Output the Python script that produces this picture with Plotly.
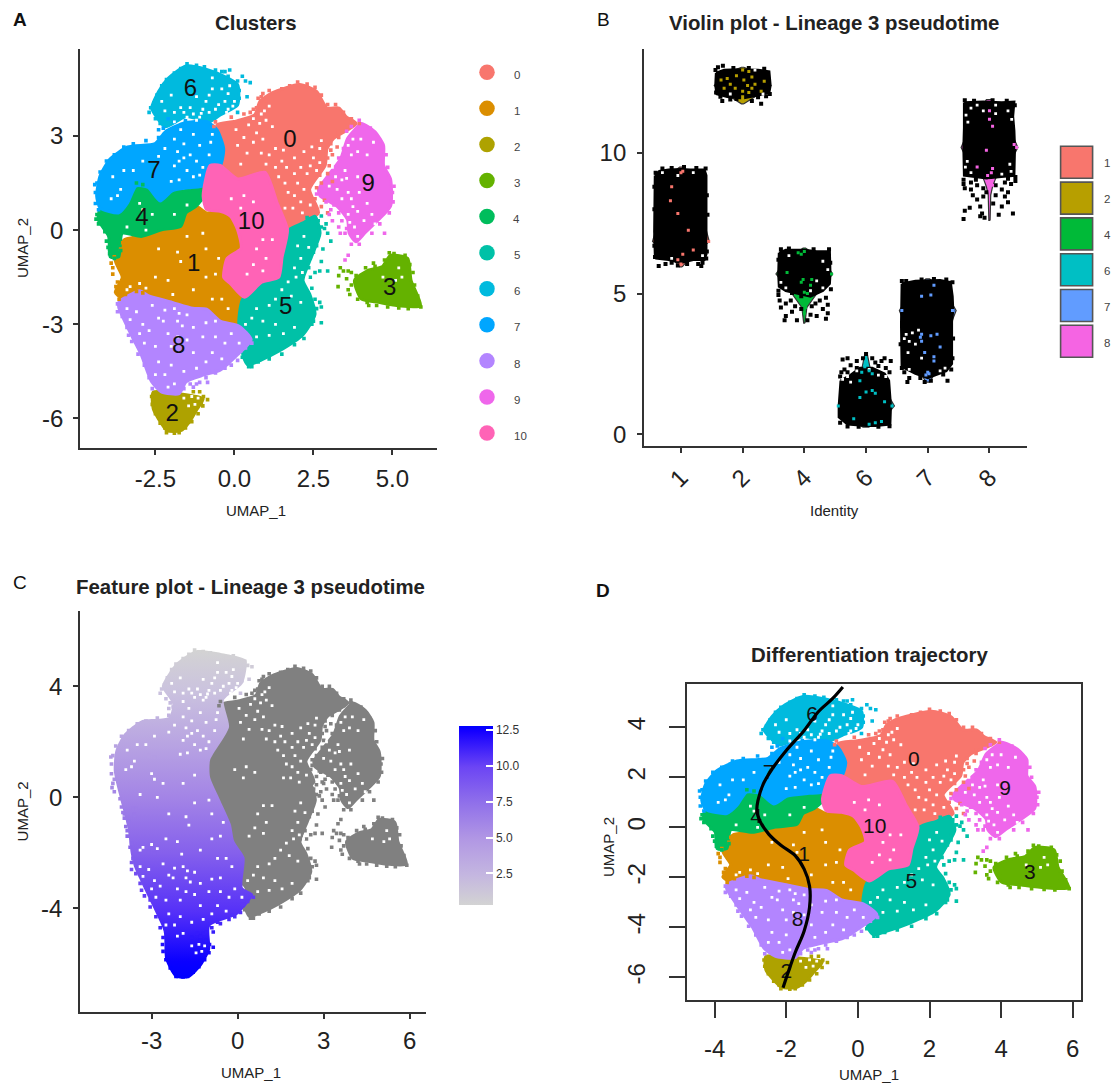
import plotly.graph_objects as go

W, H = 1115, 1084
FONT = "Liberation Sans"

# ---------- data (UMAP units) ----------
CLUSTER_IDS = ["0", "1", "2", "3", "4", "5", "6", "7", "8", "9", "10"]
CLUSTER_COLORS = ["#F8766D", "#DB8E00", "#AEA200", "#64B200", "#00BD5C", "#00C1A7",
                  "#00BADE", "#00A6FF", "#B385FF", "#EF67EB", "#FF63B6"]

c0 = [(.805,4.10),(1.19,4.37),(2.06,4.64),(2.60,4.42),(2.93,3.89),(3.31,3.89),(3.53,3.62),(3.85,3.40),(3.58,3.19),(3.14,2.92),(2.93,2.59),(2.87,2.06),(2.38,1.30),(2.66,.55),(1.95,.12),(1.68,.12),(1.40,.44),(1.35,.87),(.97,1.84),(.10,1.63),(-.45,2.16),(-.34,2.59),(-.55,3.35),(-.01,3.46),(.64,3.67)]
c1 = [(-1.21,.76),(-.88,.55),(-.45,.60),(-.12,.44),(.15,.01),(.21,-.58),(-.23,-.90),(-.34,-1.55),(-.12,-1.71),(.32,-2.14),(.21,-2.90),(-.01,-3.00),(-.45,-2.90),(-.88,-2.52),(-1.32,-2.46),(-1.97,-2.30),(-2.73,-2.03),(-3.06,-1.87),(-3.60,-2.14),(-3.77,-1.98),(-3.55,-1.50),(-3.77,-.96),(-3.49,-.31),(-3.06,-.20),(-2.30,.12),(-1.70,.12),(-1.53,.55)]
c2 = [(-2.57,-5.16),(-1.75,-5.21),(-.99,-5.37),(-1.21,-5.75),(-1.43,-6.12),(-1.70,-6.39),(-2.13,-6.39),(-2.40,-6.02),(-2.57,-5.69)]
c3 = [(4.94,-.80),(5.48,-.90),(5.59,-1.60),(5.89,-2.41),(5.21,-2.41),(4.56,-2.30),(4.02,-2.20),(3.80,-1.60),(4.23,-1.28),(4.67,-1.17)]
c4 = [(-3.11,1.41),(-2.73,1.36),(-2.40,.98),(-1.97,1.19),(-1.42,1.30),(-1.15,1.46),(-.94,1.14),(-1.21,.76),(-1.53,.55),(-1.70,.12),(-2.30,.01),(-2.95,-.20),(-3.55,-.10),(-3.66,-.85),(-3.93,-.85),(-3.98,-.20),(-4.31,.33),(-4.25,.66),(-3.66,.55),(-3.38,.87)]
c5 = [(2.17,.23),(2.55,.44),(2.71,-.10),(2.44,-.85),(2.17,-1.60),(2.38,-2.03),(2.55,-2.68),(2.17,-3.33),(1.40,-3.86),(.86,-4.13),(.42,-4.29),(.26,-3.92),(.53,-3.49),(.15,-3.06),(.26,-2.20),(.86,-1.71),(1.46,-1.28),(1.57,-.74),(1.73,.01)]
c6 = [(-1.53,5.23),(-.88,5.12),(-.34,4.91),(.10,4.64),(.10,3.99),(-.45,3.67),(-.77,3.46),(-1.53,3.62),(-2.19,3.29),(-2.51,3.67),(-2.62,3.89),(-2.40,4.42),(-2.08,4.85)]
c7 = [(-4.25,1.73),(-3.93,2.27),(-3.38,2.65),(-2.51,2.76),(-2.19,3.13),(-1.64,3.40),(-.88,3.46),(-.55,3.19),(-.34,2.59),(-.45,2.06),(-.77,2.06),(-.99,1.41),(-1.37,1.36),(-1.97,1.25),(-2.35,.93),(-2.73,1.36),(-3.11,1.41),(-3.38,.87),(-3.66,.55),(-4.25,.71),(-4.36,1.09)]
c8 = [(-3.00,-1.93),(-2.73,-2.09),(-1.97,-2.30),(-1.32,-2.49),(-.88,-2.52),(-.45,-2.90),(.15,-3.06),(.53,-3.49),(.10,-3.97),(-.45,-4.46),(-.99,-4.62),(-1.53,-4.83),(-1.75,-5.21),(-2.30,-5.16),(-2.62,-4.83),(-2.95,-3.97),(-3.22,-3.43),(-3.66,-2.47),(-3.66,-2.30)]
c9 = [(4.02,3.40),(4.45,3.13),(4.72,2.70),(4.72,2.06),(4.94,1.63),(4.94,.76),(4.56,.33),(4.12,-.10),(3.85,-.37),(3.63,-.10),(3.58,.33),(3.25,.76),(2.71,1.09),(2.66,1.30),(3.04,1.84),(3.36,2.27),(3.58,2.92),(3.80,3.19)]
c10 = [(-.77,2.06),(-.45,2.06),(.10,1.63),(.97,1.84),(1.35,.87),(1.68,.01),(1.51,-.85),(1.40,-1.50),(.86,-1.66),(.32,-2.14),(-.12,-1.71),(-.34,-1.50),(-.23,-.90),(.21,-.58),(.10,.01),(-.12,.44),(-.45,.60),(-.88,.66),(-.99,1.09)]
OUTLINES = [c0, c1, c2, c3, c4, c5, c6, c7, c8, c9, c10]

# stray cells outside the dense part of each cluster
stray = {
    0: [(.9,4.35),(.75,4.2),(2.75,.75),(2.95,.55),(2.55,1.0),(2.75,1.5),(3.05,2.75),(3.3,3.1),(1.0,4.0),(.7,3.9),
        (.6,3.85),(.85,4.25),(1.1,4.45),(1.5,4.5),(1.75,4.6),(2.0,4.72),(2.3,4.65),(2.55,4.55),(2.75,4.3),(2.95,4.0),(3.2,4.0),(3.45,3.75),(3.7,3.55),(3.95,3.4),(3.3,2.95),(3.05,2.55),(2.95,2.3),(3.0,2.05),(2.7,1.75),(2.6,1.35),(2.85,.95),(-.65,3.3),(-.6,3.45),(-.1,3.6),(.3,3.7),(.5,3.75),(3.1,2.4),(3.25,2.65),(2.95,1.8),(3.1,1.55)],
    1: [(-3.85,-1.2),(-3.9,-1.05),(-3.65,-2.2),(-3.45,-2.05),(-3.1,-1.95),(-2.9,-2.0),(-3.85,-1.4),(-3.7,-1.65),(-3.8,-.85),(-3.6,-.6),(-3.55,-.4),(-3.75,-1.8)],
    2: [(-.98,-5.3),(-1.1,-5.15),(-1.3,-5.15),(-1.05,-5.5),(-2.15,-6.45),(-1.75,-6.45),(-2.62,-5.3),(-2.6,-5.55),(-2.5,-5.85),(-2.35,-6.15),(-2.2,-6.3),(-1.9,-6.47),(-1.55,-6.3),(-1.35,-6.1),(-1.15,-5.85),(-1.0,-5.6),(-.85,-5.4)],
    3: [(3.35,-1.2),(3.45,-1.3),(3.3,-1.45),(3.6,-1.3),(3.7,-1.35),(3.28,-1.8),(3.7,-1.75),(3.55,-1.55),(3.9,-2.2),(3.65,-2.05),(4.25,-2.4),(4.4,-1.05),(4.9,-.72),(5.3,-.85),(5.65,-2.0),(3.6,-1.9),
        (5.0,-.95),(5.65,-1.35),(5.7,-1.75),(5.8,-2.1),(5.9,-2.45),(5.5,-2.5),(5.2,-2.48),(4.85,-2.45),(4.5,-2.4),(4.2,-2.3),(3.95,-1.95),(3.85,-1.45),(4.15,-1.2),(4.45,-1.15),(4.75,-.95),(5.05,-.75),(5.4,-.8),(5.55,-1.1)],
    4: [(-3.95,-.6),(-4.05,-.35),(-4.38,.35),(-3.8,-.9),(-4.35,.5),(-4.3,.2),(-4.1,-.05),(-4.0,-.55),(-3.95,-.75),(-3.6,-.65),(-3.65,-.4),(-3.1,1.5),(-2.9,1.45)],
    5: [(2.75,.45),(2.9,.2),(3.05,-.35),(2.95,-.1),(2.8,-.6),(2.75,-1),(2.95,-1.3),(2.55,-1.35),(2.4,-1.5),(2.7,-1.3),(2.7,-2.3),(2.75,-2.45),(2.75,-2.95),(2.5,-2.9),(.45,-4.35),(.25,-4.05),(2.6,-.3),(2.85,.05),
        (2.3,.4),(2.65,.3),(2.75,.1),(2.6,-.5),(2.5,-.7),(2.35,-1.2),(2.45,-1.85),(2.55,-2.2),(2.6,-2.5),(2.45,-3.0),(2.2,-3.45),(1.9,-3.65),(1.5,-3.95),(1.1,-4.1),(.75,-4.2),(.55,-4.35)],
    6: [(.25,4.9),(.35,4.75),(.5,4.7),(.4,4.25),(.1,3.75),(-.05,4.3),(-.15,5.1),(-.3,5.05),(-2.65,3.9),(-2.7,3.75),(-2.55,4.05),(-2.45,4.3),(-2.3,4.6),(-2.15,4.8),(-1.9,5.0),(-1.7,5.15),(-1.5,5.3),(-1.2,5.25),(-.95,5.2),(-.6,5.1),(-.4,5.05),(-.2,4.9),(.1,4.75),(.15,4.45),(.15,4.2),(-2.5,3.55),(-2.35,3.4)],
    7: [(-4.42,1.45),(-4.4,.85),(-2.4,3.2),(-2.1,3.55),(-4.4,1.2),(-4.35,1.5),(-4.25,1.85),(-4.05,2.2),(-3.8,2.4),(-3.5,2.65),(-3.2,2.75),(-2.8,2.85),(-2.4,2.95),(-2.25,3.25),(-1.9,3.45),(-1.55,3.48),(-4.3,.65)],
    8: [(-.1,-4.3),(-.6,-4.55),(-1.1,-4.85),(-1.2,-4.9),(-.3,-4.4),(.1,-4.15),(-3.7,-2.6),(-3.35,-3.35),(-3.05,-3.7),(-3.7,-2.35),(-3.55,-2.75),(-3.4,-3.1),(-3.25,-3.55),(-3.05,-3.95),(-2.85,-4.3),(-2.7,-4.7),(-2.6,-5.05),(-.9,-4.7),(-.7,-4.5),(-.2,-4.25),(.2,-3.85),(.35,-3.75),(.55,-3.6),(-1.4,-4.9),(-1.6,-5.05),(-1.3,-5.0),(-.85,-4.85)],
    9: [(4.75,-.1),(3.6,-.8),(3.5,-.95),(3.0,.5),(3.1,.3),(3.3,.1),(3.5,-.1),(3.35,-.1),(5.05,1.4),(3.15,.8),
        (3.45,2.6),(3.3,2.3),(3.2,1.95),(2.95,1.6),(2.85,1.3),(2.6,1.15),(2.9,.9),(3.05,.65),(3.3,.55),(3.4,.3),(3.55,.05),(3.7,-.45),(3.95,-.45),(5.0,1.2),(5.02,.9),(4.9,.55),(4.6,.2),(4.35,-.1),(4.85,2.0),(4.8,2.4),(4.6,2.85),(4.3,3.25),(3.95,3.5),(3.7,3.3),(3.55,3.15)],
    10: [],
}
LINEAGE_CLUSTERS = [1, 2, 4, 6, 7, 8]

# small gaps between the cells
gaps = [(-1.1,3.6),(-1.3,3.7),(-1.0,3.85),(-.8,3.75),(-1.5,3.6),(-1.9,3.45),(-1.6,3.75),(-.6,3.85),(-.9,4.1),(-.5,4.0),(-.3,4.1),(-1.2,4.25),(-1.7,3.9),(-1.2,3.5),(-1.05,3.72),(-.2,3.85),(-.05,3.95),
        (-2.2,3.8),(-2.0,4.3),(-2.3,4.1),(-.7,4.5),(-.4,4.5),(-.15,4.6),(-.7,4.85),(-1.9,3.75),(-1.4,3.9),(-.8,4.3),(-.2,4.35),(0,4.1),(-.25,3.75),
        (-1.8,2.5),(-1.75,2.2),(-1.6,2.3),(-1.4,2.4),(-1.2,2.2),(-1.0,2.0),(-1.5,1.9),(-1.1,2.7),(-1.6,2.75),(-.8,2.4),(-3.6,1.3),(-3.7,1.1),(-3.2,1.9),
        (-1.9,2.9),(-2.2,2.6),(-2.4,2.35),(-1.9,2.05),(-1.3,1.7),(-1.1,1.75),(-2.0,1.55),(-1.75,1.6),(-.75,2.8),(-.7,3.05),(-1.3,3.05),(-1.7,3.2),(-3.9,1.0),(-3.5,1.9),(-3.85,1.7),(-2.9,2.2),
        (.6,2.8),(.7,3.1),(.9,2.9),(.45,3.35),(.8,3.4),(.95,3.8),(1.2,3.3),(1.1,2.4),(1.3,2.0),(1.4,1.7),(1.6,1.5),(1.7,1.2),(1.65,2.0),(1.9,2.3),(2.1,2.0),(2.3,1.8),(2.2,2.5),(2.5,2.3),(2.6,1.9),(1.5,2.2),(1.9,1.1),(2.1,.9),(2.4,2.05),(2.7,2.6),(2.75,2.85),
        (.2,2.1),(.4,2.45),(.85,2.45),(1.0,2.1),(1.3,2.6),(1.55,2.55),(1.9,1.8),(2.0,1.5),(2.2,1.3),(1.85,.7),(2.15,.55),(1.6,.7),(2.4,.8),(2.45,2.65),(2.7,2.15),(.3,2.95),(.05,3.2),(.1,2.7),(.85,3.7),(1.1,3.95),(1.0,3.5),(.6,3.55),
        (3.1,2.0),(3.4,1.6),(3.6,1.2),(3.9,1.7),(3.7,1.0),(3.9,.6),(4.1,.3),(3.8,.1),(3.9,-.2),(3.7,2.4),(3.4,1.0),(3.25,1.3),(3.5,1.9),(3.75,.75),
        (4.0,2.9),(3.9,2.5),(4.2,2.4),(4.4,2.8),(3.75,2.9),(3.6,2.7),(3.95,1.2),(4.2,.85),(4.35,.5),(3.55,1.65),(3.2,1.7),(3.0,1.4),(4.45,.2),(3.6,.5),(3.65,.25),
        (.3,1.1),(.6,.9),(.9,-.3),(.7,-.6),(1.0,-.9),(.6,-1.1),(.4,-1.4),(.9,-1.3),(1.2,-.3),(-.1,1.0),(.2,.7),
        (-1.5,-.2),(-1,-.1),(-.9,-.6),(-.5,-.9),(-.6,-1.4),(-.9,-1.5),(-1.7,-1.0),(-2.1,-1.6),(-2.5,-1.5),(-3,-1.7),(-3.3,-1.8),(-.4,-2.2),(-.2,-2.5),(-.7,-2.2),(-1.3,-1.9),(-1.8,-.7),(-2.4,-.6),(-3.4,-1.9),(-2.8,-1.85),(-1.95,-2.05),
        (-1.9,-2.5),(-1.8,-2.9),(-1.5,-2.7),(-1.3,-3.1),(-2.1,-3.3),(-2.4,-2.8),(-2.9,-3),(-2.5,-3.7),(-1.0,-3.4),(-.6,-3.4),(-.3,-3.6),(-1.3,-3.9),(-.7,-3.9),(-2,-4.3),(-1.6,-4.5),(-1.9,-4.9),(-2.1,-5),(-3.1,-2.6),(-2.7,-3.2),(-1.75,-2.65),(-1.65,-3.05),
        (-3.4,-2.5),(-3.3,-2.85),(-3.0,-3.3),(-2.85,-3.6),(-2.6,-2.4),(-2.2,-2.55),(-2.25,-2.9),(-2.0,-3.7),(-1.8,-3.4),(-1.5,-3.5),(-.9,-2.95),(-.6,-2.9),(-2.4,-4.2),(-2.5,-4.6),(-2.2,-4.6),(-1.2,-4.4),(-.9,-4.2),(-.4,-4.1),(.15,-3.6),(-.1,-3.3),
        (.7,-2.5),(.9,-2.9),(1.1,-2.4),(1.3,-3.0),(.7,-3.4),(1.8,-2.1),(1.5,-1.9),(2.1,-2.3),(1.3,-2.2),(1.9,-1.2),
        (2.2,-.2),(2.35,-.55),(2.1,-.9),(1.95,-1.5),(1.7,-1.65),(1.1,-3.35),(1.55,-3.3),(1.9,-3.1),(.55,-2.8),(.35,-3.0),(2.3,-1.5),(2.15,-1.35),(2.0,-.5),
        (-3,.85),(-2.9,.65),(-2.6,.5),(-1.9,.5),(-1.5,.8),(-3.4,.1),(-2.8,.0),(5.2,-1.2),(5.3,-1.5),(5.1,-1.6),(4.7,-1.5),
        (-1.35,-5.3),(-1.25,-5.55),(-1.45,-5.6),(-1.15,-5.35),(-1.6,-5.35)]

label_xy_A = [(1.76,2.83),(-1.29,-1.10),(-1.97,-5.88),(4.91,-1.89),(-2.93,.36),(1.62,-2.49),(-1.39,4.46),(-2.55,1.84),(-1.76,-3.72),(4.23,1.43),(.53,.23)]
label_xy_D = [(1.56,2.67),(-1.5,-1.13),(-2,-5.81),(4.8,-1.87),(-2.84,.4),(1.49,-2.2),(-1.28,4.47),(-2.49,2.14),(-1.68,-3.74),(4.11,1.5),(.47,0)]

# principal curve in panel D
curve_x = [-.42,-.71,-1.11,-1.50,-2.0,-2.39,-2.64,-2.79,-2.82,-2.74,-2.49,-2.14,-1.75,-1.50,-1.35,-1.35,-1.50,-1.75,-1.95,-2.09]
curve_y = [5.61,5.14,4.61,3.87,3.07,2.34,1.74,1.07,.67,.27,-.27,-.73,-1.13,-1.67,-2.34,-3.2,-4.14,-5.0,-5.81,-6.41]

# Panel C: outline of the cells that carry a pseudotime value
lineage = [(-.48,3.49),(-.30,2.53),(-.96,1.33),(-.96,.72),(-.6,-.12),(-.24,-.96),(-.12,-1.57),(.24,-2.17),(.18,-3.25),(.54,-3.49),(0,-4.22),(-.96,-4.64),(-.96,-5.48),(-1.26,-6.08),(-1.68,-6.5),(-2.16,-6.5),(-2.52,-5.84),(-2.58,-4.82),(-3.06,-3.73),(-3.6,-2.53),(-3.72,-2.05),(-3.84,-1.08),(-4.14,.12),(-4.32,.96),(-4.26,1.69),(-3.96,2.29),(-3.36,2.77),(-2.4,2.89),(-2.28,3.37),(-2.64,3.98),(-2.16,4.82),(-1.44,5.30),(-.48,5.18),(.3,4.94),(.18,4.1)]
grey_core = [(-1.1,1.5),(-.5,2.6),(.6,2.6),(1.6,1.0),(2.6,.6),(2.2,-1.5),(1.5,-3.2),(.4,-3.6),(.05,-2.5),(-.4,-1.5),(-.8,-.2),(-1.1,.7)]
GREY_CLUSTERS = [0, 3, 5, 9, 10]
gradient_stops = [(0,"#D3D3D3"),(.12,"#CBC3DE"),(.28,"#B9A5E2"),(.45,"#A384E6"),(.62,"#8560EC"),(.8,"#5530F8"),(.95,"#0A00FF"),(1,"#0000FF")]
bar_stops = [(0,"#D3D3D3"),(.17,"#C4B6E0"),(.37,"#B197E4"),(.57,"#9070EA"),(.77,"#6C45F4"),(.97,"#1500FF"),(1,"#0000FF")]
BAR_TICKS = [2.5, 5.0, 7.5, 10.0, 12.5]

# Panel B: identities, violin half-widths, jittered cells
IDENTS = ["1", "2", "4", "6", "7", "8"]
IDENT_COLORS = ["#F8766D", "#B79F00", "#00BA38", "#00BFC4", "#619CFF", "#F564E3"]
violins = [
    [(5.95,.02),(6.4,.2),(6.85,.46),(7.5,.38),(8.5,.3),(9.2,.2),(9.5,.02)],
    [(11.75,.02),(12.0,.2),(12.4,.46),(12.8,.3),(13.05,.02)],
    [(3.95,.01),(4.5,.04),(5.0,.2),(5.7,.46),(6.2,.3),(6.62,.02)],
    [(.25,.05),(.6,.3),(1.0,.46),(1.6,.3),(2.2,.08),(2.85,.02)],
    [(1.85,.03),(2.5,.2),(3.5,.3),(4.4,.46),(5.0,.3),(5.52,.03)],
    [(7.6,.01),(8.5,.02),(8.8,.05),(9.1,.1),(9.5,.3),(10.2,.46),(11,.3),(11.9,.05)],
]
blobs = [
    [(-.42,9.2),(-.35,9.35),(-.2,9.4),(0,9.42),(.15,9.4),(.38,9.4),(.41,9.2),(.41,7.0),(.41,6.4),(.38,6.2),(.2,6.2),(0,6.1),(-.2,6.2),(-.4,6.25),(-.42,6.4),(-.43,7.2)],
    [(-.43,12.85),(-.3,12.95),(-.05,12.97),(.25,12.95),(.43,12.9),(.45,12.4),(.43,12.15),(.25,12.05),(0,11.95),(-.25,12.0),(-.42,12.1),(-.44,12.4)],
    [(-.41,6.45),(-.3,6.55),(0,6.55),(.2,6.5),(.41,6.5),(.42,5.7),(.41,5.35),(.3,5.1),(.1,4.9),(-.1,5.0),(-.3,5.1),(-.41,5.25),(-.42,5.7)],
    [(-.41,1.9),(-.25,2.1),(-.1,2.35),(.1,2.35),(.3,2.15),(.37,1.9),(.4,1.0),(.39,.35),(.15,.3),(0,.3),(-.3,.35),(-.44,.6),(-.44,1.0)],
    [(-.42,5.35),(-.2,5.45),(.2,5.47),(.37,5.4),(.4,4.9),(.41,4.4),(.39,4.0),(.39,2.5),(.3,2.25),(.1,2.1),(0,2.0),(-.2,2.15),(-.42,2.4),(-.43,3.9),(-.43,4.4)],
    [(-.41,11.8),(-.1,11.82),(.2,11.8),(.4,11.82),(.38,11.3),(.4,10.8),(.41,10.2),(.4,9.6),(.4,9.2),(.15,9.15),(-.05,9.1),(-.41,9.2),(-.42,10.2),(-.41,10.9)],
]
loose_cells = [
    [(-.36,5.98),(.33,5.98),(.35,6.1),(-.25,6.05),(.1,6.05),(-.15,6.1),(-.41,9.3),(-.3,9.45),(-.15,9.47),(.05,9.5),(.25,9.47),(.4,9.45),(-.42,6.3),(.41,6.25),(.42,6.5),(-.43,6.7),(-.43,8),(.42,8.5),(.43,7.8),(-.43,8.8),(.28,6.05),(-.05,6.0)],
    [(-.36,12.0),(-.33,11.85),(-.2,11.9),(.3,11.75),(.15,11.85),(-.4,13.05),(-.32,13.1),(-.44,12.95),(-.15,13.02),(.1,13.02),(.35,13.0),(-.43,12.15),(.44,12.1),(.38,12.02),(.25,11.98),(-.1,11.92)],
    [(-.42,4.95),(-.4,4.75),(-.3,4.65),(-.22,4.75),(-.15,4.55),(-.05,4.45),(-.3,4.2),(-.32,4.05),(-.12,4.05),(-.2,4.35),(.12,4.55),(.18,4.65),(.2,4.2),(.3,4.45),(.38,4.6),(.38,4.3),(.35,4.1),(.1,4.25),(.05,4.05),(.25,4.75),(.35,4.85),(-.38,4.5),(-.38,6.58),(-.25,6.6),(.15,6.58),(.4,6.58),(-.42,6.2),(.42,6.1),(-.42,5.1),(.43,5.15),(-.2,5.02),(-.05,4.9)],
    [(-.38,2.65),(-.3,2.7),(-.25,2.45),(.3,2.7),(.4,2.6),(.25,2.6),(-.35,2.3),(-.4,2.2),(0,2.85),(-.05,2.7),(.1,2.7),(.15,2.55),(-.15,2.6),(-.42,2.05),(.38,2.2),(.32,2.35),(.2,2.42),(-.15,2.35),(-.3,2.2),(-.42,.4),(-.3,.27),(.2,.26),(.38,.28),(-.12,.26)],
    [(-.33,1.85),(-.3,2.0),(.32,1.9),(-.05,1.85),(.05,1.9),(-.38,2.2),(.38,2.3),(-.42,2.35),(-.35,5.45),(-.42,5.45),(-.1,5.5),(.1,5.52),(.3,5.5),(.4,5.4),(.41,3.4),(-.44,3.2),(.4,2.7),(.25,2.12),(-.12,2.0)],
    [(-.42,8.9),(-.4,8.75),(-.3,8.95),(-.3,8.7),(-.2,8.85),(-.1,8.75),(.1,8.85),(.2,8.7),(.25,8.95),(.35,8.9),(.42,9.0),(-.32,8.05),(-.2,8.35),(-.1,8.45),(-.15,8.1),(.1,8.5),(.25,8.45),(.3,8.25),(-.4,7.95),(-.42,7.65),(.38,7.85),(-.12,7.85),(-.08,7.7),(-.15,7.75),(.15,7.8),(.06,8.2),(-.27,8.5),(.3,8.6),(-.05,8.6),(.2,8.1),(-.4,11.88),(-.25,11.86),(.05,11.88),(.28,11.86),(.41,11.7),(-.42,9.05),(-.22,9.05),(.3,9.08),(.42,9.15)],
]
blob_holes = [
    [(-.05,9.2),(.2,9.3),(-.3,9.3),(.35,6.35),(-.15,6.25)],
    [(.2,12.95),(-.2,12.1),(.33,12.1)],
    [(-.25,6.35),(.3,6.15),(.38,5.85),(.3,5.2),(-.3,5.2),(.2,5.45),(-.38,5.4),(.1,5.1)],
    [(-.3,2.05),(-.38,1.95),(.2,2.1),(.32,2.05),(-.25,1.85),(.05,2.3),(-.15,2.25)],
    [(-.35,3.55),(-.25,3.6),(-.3,3.3),(-.2,3.2),(-.32,2.9),(-.15,3.7),(-.38,3.4),(-.1,2.7),(.28,2.35),(-.3,2.3),(.2,2.25)],
    [(-.38,11.35),(-.3,11.6),(-.2,11.7),(.1,11.7),(.3,11.5),(.36,11.2),(-.35,11.1),(-.39,9.5),(-.3,9.3),(.35,9.35),(.2,9.25),(.1,11.4),(-.1,11.5),(.33,9.6),(-.36,9.7)],
]
ident_cells = [
    [(0,9.3),(.03,9.35),(-.15,8.8),(-.17,8.3),(-.05,7.85),(.12,7.25),(.2,6.55),(.03,6.4),(-.05,6.2),(0,6.05),(.45,6.85)],
    [(0,12.95),(.1,12.9),(.15,12.7),(-.1,12.75),(-.25,12.65),(-.2,12.45),(.02,12.6),(.08,12.4),(.2,12.45),(.35,12.55),(-.35,12.6),(-.12,12.3),(0,12.2),(.1,12.15),(0,12.0),(0,11.9),(.3,12.2),(-.3,12.3),(.15,12.3)],
    [(-.1,6.45),(-.05,6.4),(0,6.5),(.44,5.7),(-.05,5.4),(-.02,5.5),(.12,5.5),(.1,5.3),(0,5.05),(.05,5.0),(0,4.7),(.02,4.5),(0,4.3),(-.28,5.75)],
    [(0,2.6),(-.02,2.4),(.05,2.25),(.1,2.15),(-.07,2.2),(-.1,1.9),(0,1.5),(.1,1.55),(.15,1.45),(-.1,1.3),(.3,1.15),(.42,1.0),(-.2,.55),(.15,.4),(.05,.35),(-.45,1.0),(.25,.45)],
    [(.4,4.4),(-.42,4.4),(.05,4.95),(.1,5.3),(-.1,4.9),(-.1,3.55),(-.12,3.45),(-.1,3.3),(.05,3.5),(.15,3.55),(.2,3.1),(-.05,2.9),(.1,2.75),(.1,2.6),(0,2.2),(-.03,2.1),(.02,2.15)],
    [(0,11.5),(0,11.2),(.05,10.95),(-.05,10.1),(.4,10.3),(.44,10.2),(-.2,9.5),(.05,9.45),(0,9.0),(.02,8.9),(0,8.75),(-.03,9.2),(.03,9.3),(.05,8.85)],
]

# ---------- geometry helpers ----------
def dom_x(a, b): return [a / W, b / W]
def dom_y(top, bottom): return [1 - bottom / H, 1 - top / H]
def xs(pts): return [p[0] for p in pts]
def ys(pts): return [p[1] for p in pts]
def closed(pts): return pts + pts[:1]

fig = go.Figure()

def add_poly(pts, color, ax, line=3, shape="spline"):
    p = closed(pts)
    fig.add_trace(go.Scatter(x=xs(p), y=ys(p), mode="lines", fill="toself", fillcolor=color,
                             line=dict(color=color, width=line, shape=shape, smoothing=.6),
                             xaxis="x" + ax, yaxis="y" + ax, hoverinfo="skip", showlegend=False))

def add_dots(pts, color, ax, size=3.6, symbol="square"):
    if pts:
        fig.add_trace(go.Scatter(x=xs(pts), y=ys(pts), mode="markers",
                                 marker=dict(color=color, size=size, symbol=symbol, line=dict(width=0)),
                                 xaxis="x" + ax, yaxis="y" + ax, hoverinfo="skip", showlegend=False))

def add_umap(ax):
    for i, pts in enumerate(OUTLINES):
        add_poly(pts, CLUSTER_COLORS[i], ax)
    for i in range(len(OUTLINES)):
        add_dots(stray[i], CLUSTER_COLORS[i], ax)
    add_dots(gaps, "white", ax, 2.8)

# Panel A
add_umap("")
fig.add_trace(go.Scatter(x=xs(label_xy_A), y=ys(label_xy_A), text=CLUSTER_IDS, mode="text",
                         textfont=dict(family=FONT, size=24, color="#111"), hoverinfo="skip", showlegend=False))

# Panel B
for k, name in enumerate(IDENTS):
    v = violins[k]
    outline = [(k + w, y) for y, w in v] + [(k - w, y) for y, w in reversed(v)]
    p = closed(outline)
    fig.add_trace(go.Scatter(x=xs(p), y=ys(p), mode="lines", fill="toself", fillcolor=IDENT_COLORS[k],
                             line=dict(color="#333333", width=1.2), xaxis="x2", yaxis="y2",
                             hoverinfo="skip", showlegend=False))
    add_poly([(k + a, b) for a, b in blobs[k]], "black", "2", 2.5, "linear")
    add_dots([(k + a, b) for a, b in loose_cells[k]], "black", "2", 4)
    add_dots([(k + a, b) for a, b in blob_holes[k]], "white", "2", 2.8)
    add_dots([(k + a, b) for a, b in ident_cells[k]], IDENT_COLORS[k], "2", 3)

# Panel C
add_poly(grey_core, "#808080", "3", 3, "linear")
for i in GREY_CLUSTERS:
    add_poly(OUTLINES[i], "#808080", "3")
p = closed(lineage)
fig.add_trace(go.Scatter(x=xs(p), y=ys(p), mode="lines", fill="toself",
                         fillgradient=dict(type="vertical", start=5.3, stop=-6.5,
                                           colorscale=[list(s) for s in gradient_stops]),
                         line=dict(width=0, color="rgba(0,0,0,0)", shape="spline", smoothing=.6),
                         xaxis="x3", yaxis="y3", hoverinfo="skip", showlegend=False))
for i in GREY_CLUSTERS:
    add_dots(stray[i], "#808080", "3")
line_cells = [q for i in LINEAGE_CLUSTERS for q in stray[i]]
fig.add_trace(go.Scatter(x=xs(line_cells), y=ys(line_cells), mode="markers", xaxis="x3", yaxis="y3",
                         hoverinfo="skip", showlegend=False,
                         marker=dict(size=3.6, symbol="square", line=dict(width=0), color=ys(line_cells),
                                     cmin=-6.5, cmax=5.3, colorscale=[list(s) for s in gradient_stops], reversescale=True)))
add_dots(gaps, "white", "3", 2.8)
fig.add_trace(go.Scatter(
    x=[None, None], y=[None, None], mode="markers", xaxis="x3", yaxis="y3", showlegend=False, hoverinfo="skip",
    marker=dict(color=[.3, 12.79], cmin=.3, cmax=12.79, colorscale=[list(s) for s in bar_stops], showscale=True,
                colorbar=dict(lenmode="pixels", len=178.6, thicknessmode="pixels", thickness=34,
                              x=458.7 / W, xanchor="left", y=1 - 905 / H, yanchor="bottom", outlinewidth=0,
                              tickvals=BAR_TICKS, ticktext=["2.5", "5.0", "7.5", "10.0", "12.5"],
                              tickprefix="\u00a0\u00a0",
                              ticks="inside", ticklen=7, tickcolor="white", tickwidth=1.5,
                              tickfont=dict(family=FONT, size=12, color="#333"), ypad=0, xpad=0))))

# Panel D
add_umap("4")
fig.add_trace(go.Scatter(x=xs(label_xy_D), y=ys(label_xy_D), text=CLUSTER_IDS, mode="text", xaxis="x4", yaxis="y4",
                         textfont=dict(family=FONT, size=21, color="#111"), hoverinfo="skip", showlegend=False))
fig.add_trace(go.Scatter(x=curve_x, y=curve_y, mode="lines", xaxis="x4", yaxis="y4",
                         line=dict(color="black", width=3.2, shape="spline"), hoverinfo="skip", showlegend=False))

# Legends, drawn on a page-wide pixel axis
fig.add_trace(go.Scatter(x=[487] * len(CLUSTER_IDS), y=[72.3 + 36.07 * i for i in range(len(CLUSTER_IDS))],
                         mode="markers", xaxis="x5", yaxis="y5", hoverinfo="skip", showlegend=False,
                         marker=dict(size=15.5, color=CLUSTER_COLORS, line=dict(width=0))))
fig.add_trace(go.Scatter(x=[1076.6] * len(IDENTS), y=[162.3 + 35.8 * i for i in range(len(IDENTS))],
                         mode="markers", xaxis="x5", yaxis="y5", hoverinfo="skip", showlegend=False,
                         marker=dict(size=32, symbol="square", color=IDENT_COLORS, line=dict(width=1.6, color="#555"))))
# left-hand white ticks of the colour bar
fig.add_trace(go.Scatter(x=[462.2] * len(BAR_TICKS), y=[905 - (v - .3) * 14.3 for v in BAR_TICKS],
                         mode="markers", xaxis="x5", yaxis="y5", hoverinfo="skip", showlegend=False,
                         marker=dict(symbol="line-ew", size=7, line=dict(width=1.5, color="white"))))

# ---------- layout ----------
axis_style = dict(showgrid=False, zeroline=False, showline=True, linecolor="#333", linewidth=1.6,
                  ticks="outside", ticklen=5, tickwidth=1.6, tickcolor="#333",
                  tickfont=dict(family=FONT, size=24, color="#222"))

layout = dict(
    width=W, height=H, autosize=False, margin=dict(l=0, r=0, t=0, b=0),
    paper_bgcolor="white", plot_bgcolor="rgba(0,0,0,0)", showlegend=False,
    xaxis=dict(domain=dom_x(79.9, 437.3), range=[-4.89, 6.42], tickvals=[-2.5, 0, 2.5, 5],
               ticktext=["-2.5", "0.0", "2.5", "5.0"], ticklabelstandoff=3, **axis_style),
    yaxis=dict(domain=dom_y(49, 448.3), range=[-6.95, 5.77], tickvals=[-6, -3, 0, 3],
               ticktext=["-6", "-3", "0", "3"], ticklabelstandoff=5, **axis_style),
    xaxis2=dict(domain=dom_x(643.9, 1026.5), range=[-.6, 5.6], tickvals=list(range(6)), ticktext=IDENTS,
                tickangle=-45, ticklabelstandoff=1, anchor="y2", **axis_style),
    yaxis2=dict(domain=dom_y(49, 446.2), range=[-.43, 13.7], tickvals=[0, 5, 10], ticktext=["0", "5", "10"],
                ticklabelstandoff=6, anchor="x2", **axis_style),
    xaxis3=dict(domain=dom_x(79.9, 426.3), range=[-5.5, 6.58], tickvals=[-3, 0, 3, 6], ticktext=["-3", "0", "3", "6"],
                ticklabelstandoff=1, anchor="y3", **axis_style),
    yaxis3=dict(domain=dom_y(611, 1012.2), range=[-7.74, 6.71], tickvals=[-4, 0, 4], ticktext=["-4", "0", "4"],
                ticklabelstandoff=6, anchor="x3", **axis_style),
    xaxis4=dict(domain=dom_x(687.4, 1081), range=[-4.76, 6.23], tickvals=[-4, -2, 0, 2, 4, 6],
                ticktext=["-4", "-2", "0", "2", "4", "6"], anchor="y4", mirror=True, ticklabelstandoff=10,
                **{**axis_style, "ticklen": 17}),
    yaxis4=dict(domain=dom_y(683.7, 999.5), range=[-6.88, 5.74], tickvals=[-6, -4, -2, 0, 2, 4],
                ticktext=["-6", "-4", "-2", "0", "2", "4"], tickangle=-90, anchor="x4", mirror=True, ticklabelstandoff=14,
                **{**axis_style, "ticklen": 17}),
    xaxis5=dict(domain=[0, 1], range=[0, W], visible=False, anchor="y5", fixedrange=True),
    yaxis5=dict(domain=[0, 1], range=[H, 0], visible=False, anchor="x5", fixedrange=True),
)

def note(text, x, y, size, bold=False, color="#222", angle=0):
    return dict(text=("<b>%s</b>" % text) if bold else text, x=x / W, y=1 - y / H, xref="paper", yref="paper",
                showarrow=False, xanchor="center", yanchor="middle", textangle=angle,
                font=dict(family=FONT, size=size, color=color))

anns = [
    note("A", 20, 20, 19, True, "#111"), note("B", 603, 19, 19, False, "#111"),
    note("C", 20, 582, 19, False, "#111"), note("D", 603, 590, 19, True, "#111"),
    note("Clusters", 255.5, 23, 20.4, True, "#222"),
    note("Violin plot - Lineage 3 pseudotime", 834, 23, 20.4, True, "#222"),
    note("Feature plot - Lineage 3 pseudotime", 250, 587, 20.4, True, "#222"),
    note("Differentiation trajectory", 869, 655, 20.4, True, "#222"),
    note("UMAP_1", 256, 510.5, 15), note("UMAP_2", 22, 248, 15, angle=-90),
    note("Identity", 834, 510.5, 15),
    note("UMAP_1", 250.7, 1072, 15), note("UMAP_2", 22.4, 811, 15, angle=-90),
    note("UMAP_1", 869, 1074, 15), note("UMAP_2", 608, 847, 15, angle=-90),
]
for i, t in enumerate(CLUSTER_IDS):
    anns.append(note(t, 516.5 + (4 if len(t) > 1 else 0), 75 + 36.07 * i, 11.5, color="#444"))
for i, t in enumerate(IDENTS):
    anns.append(note(t, 1107, 163.5 + 35.8 * i, 11.5, color="#444"))
layout["annotations"] = anns

fig.update_layout(**layout)
fig.write_html("out.html", config={"displayModeBar": False},
               post_script="document.body.style.margin='0';document.body.style.overflow='hidden';")
